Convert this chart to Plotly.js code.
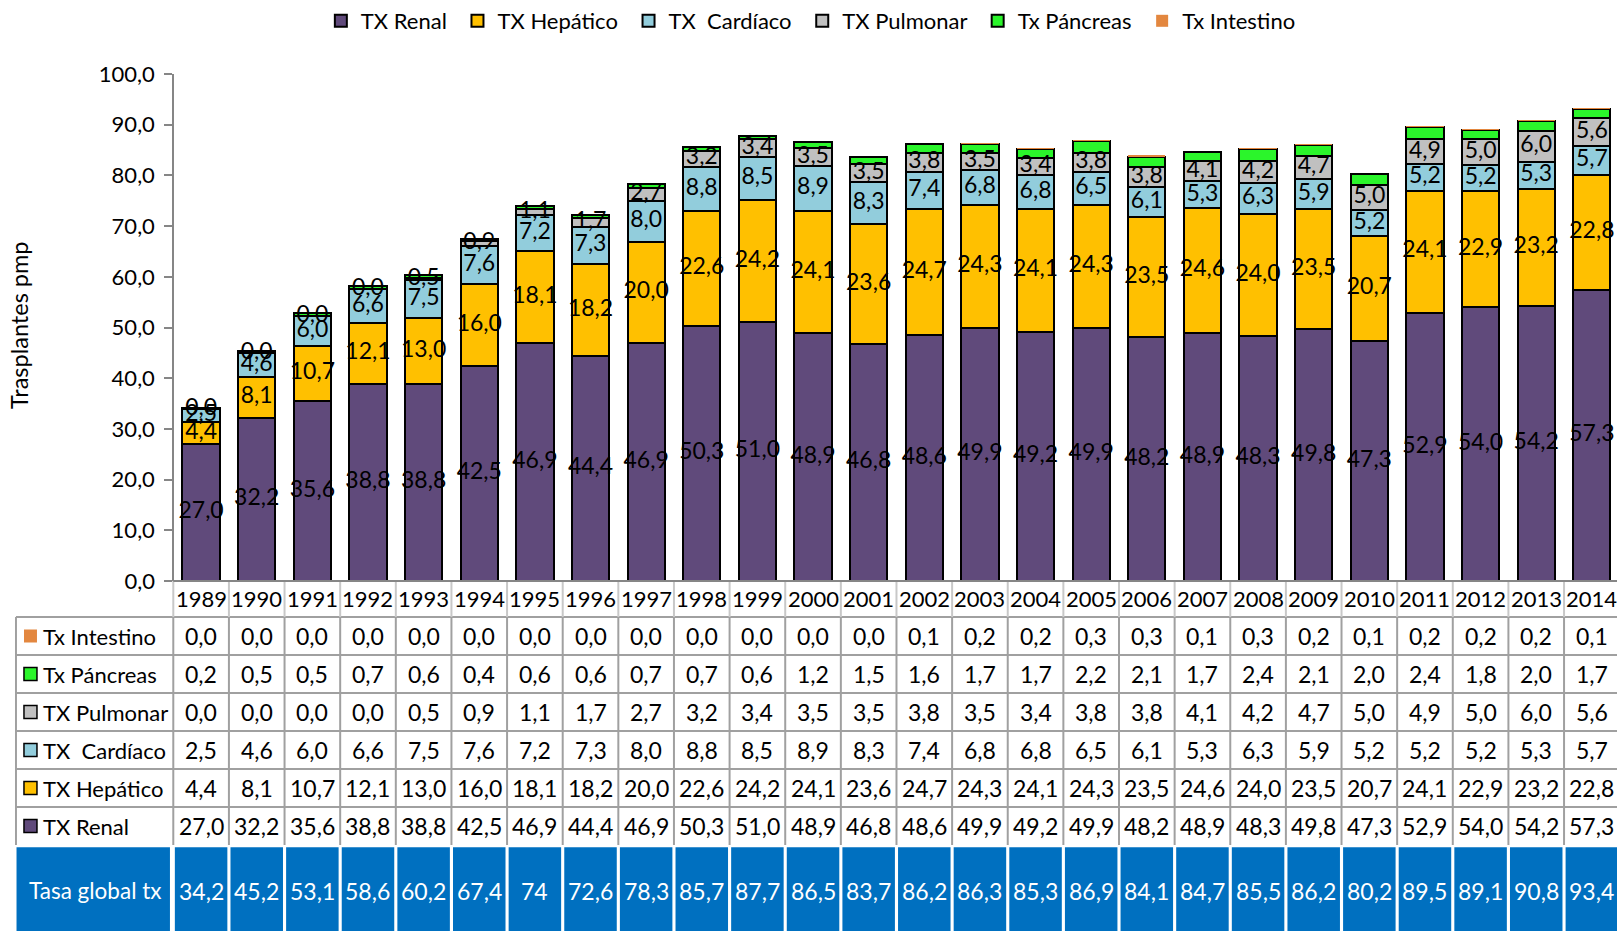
<!DOCTYPE html>
<html><head><meta charset="utf-8">
<script src="https://cdn.plot.ly/plotly-3.0.1.min.js"></script>
<style>html,body{margin:0;padding:0;overflow:hidden;background:#fff}#chart{width:1617px;height:931px}</style>
</head><body><div id="chart"></div>
<script>
// ---------------- DATA ----------------
const years = ['1989','1990','1991','1992','1993','1994','1995','1996','1997','1998','1999','2000','2001','2002','2003','2004','2005','2006','2007','2008','2009','2010','2011','2012','2013','2014'];
const txRenal     = [27.0,32.2,35.6,38.8,38.8,42.5,46.9,44.4,46.9,50.3,51.0,48.9,46.8,48.6,49.9,49.2,49.9,48.2,48.9,48.3,49.8,47.3,52.9,54.0,54.2,57.3];
const txHepatico  = [4.4,8.1,10.7,12.1,13.0,16.0,18.1,18.2,20.0,22.6,24.2,24.1,23.6,24.7,24.3,24.1,24.3,23.5,24.6,24.0,23.5,20.7,24.1,22.9,23.2,22.8];
const txCardiaco  = [2.5,4.6,6.0,6.6,7.5,7.6,7.2,7.3,8.0,8.8,8.5,8.9,8.3,7.4,6.8,6.8,6.5,6.1,5.3,6.3,5.9,5.2,5.2,5.2,5.3,5.7];
const txPulmonar  = [0.0,0.0,0.0,0.0,0.5,0.9,1.1,1.7,2.7,3.2,3.4,3.5,3.5,3.8,3.5,3.4,3.8,3.8,4.1,4.2,4.7,5.0,4.9,5.0,6.0,5.6];
const txPancreas  = [0.2,0.5,0.5,0.7,0.6,0.4,0.6,0.6,0.7,0.7,0.6,1.2,1.5,1.6,1.7,1.7,2.2,2.1,1.7,2.4,2.1,2.0,2.4,1.8,2.0,1.7];
const txIntestino = [0.0,0.0,0.0,0.0,0.0,0.0,0.0,0.0,0.0,0.0,0.0,0.0,0.0,0.1,0.2,0.2,0.3,0.3,0.1,0.3,0.2,0.1,0.2,0.2,0.2,0.1];
const tasaGlobal  = [34.2,45.2,53.1,58.6,60.2,67.4,74,72.6,78.3,85.7,87.7,86.5,83.7,86.2,86.3,85.3,86.9,84.1,84.7,85.5,86.2,80.2,89.5,89.1,90.8,93.4];

const seriesNames  = ['TX Renal','TX Hepático','TX\u00a0 Cardíaco','TX Pulmonar','Tx Páncreas','Tx Intestino'];
const seriesValues = [txRenal, txHepatico, txCardiaco, txPulmonar, txPancreas, txIntestino];
const seriesColors = ['#604a7b','#ffc000','#92cddc','#c0c0c0','#2bf52b','#e3873f'];
const seriesLabeled = [true, true, true, true, false, false];
const tasaLabel = 'Tasa global tx';
const yTitle = 'Trasplantes pmp';

// ---------------- STYLE ----------------
const FONT = 'Lato, "Open Sans", "DejaVu Sans", sans-serif';
const FS_TEXT = 22;   // words
const FS_NUM = 23;    // numbers with decimals
const W = 1617, H = 931;
const X_RANGE = [-3.615, 25.452];
const LABEL_LEFT = -3.328;
const TABLE_TOP_PX = 579;          // y2 = 0
const ROW_PX = 38;
const Y2_RANGE = [(H - TABLE_TOP_PX) / ROW_PX, 0];
const AXIS_Y2 = 2 / ROW_PX;        // x axis line (value 0) inside the table axis
const BLUE = '#0070c0';
const GRID = '#a0a0a0';
const GRID_LIGHT = '#c8c8c8';
const LEGEND_PAD = '\u00a0';

const fmt = v => v.toFixed(1).replace('.', ',');
const fmtTasa = v => Number.isInteger(v) ? String(v) : fmt(v);

// ---------------- TRACES ----------------
const traces = [];
seriesNames.forEach((name, s) => {
  traces.push({
    type: 'bar', name: name + LEGEND_PAD, x: years, y: seriesValues[s],
    marker: {color: seriesColors[s], line: {color: '#000', width: s === 5 ? 0 : 2}},
    hoverinfo: 'x+y', xaxis: 'x', yaxis: 'y'
  });
});
// data labels at the middle of each labelled segment
const base = years.map(() => 0);
seriesValues.forEach((vals, s) => {
  if (seriesLabeled[s]) {
    traces.push({
      type: 'scatter', mode: 'text', x: years,
      y: vals.map((v, i) => base[i] + v / 2),
      text: vals.map(fmt), textposition: 'middle center',
      textfont: {family: FONT, size: FS_NUM, color: '#000'},
      showlegend: false, hoverinfo: 'skip', cliponaxis: false, xaxis: 'x', yaxis: 'y'
    });
  }
  vals.forEach((v, i) => { base[i] += v; });
});
// empty trace to hold the table subplot
traces.push({type: 'scatter', x: [], y: [], xaxis: 'x', yaxis: 'y2', showlegend: false, hoverinfo: 'skip'});

// ---------------- TABLE ----------------
const shapes = [];
const annotations = [];
const n = years.length;
const tableRows = [5, 4, 3, 2, 1, 0]; // series index per row, top to bottom (rows 1..6)

// year header row
years.forEach((yr, i) => {
  annotations.push({x: i, y: 0.5, xref: 'x', yref: 'y2', text: yr, showarrow: false,
    font: {family: FONT, size: FS_TEXT, color: '#000'}, xanchor: 'center', yanchor: 'middle'});
});
// data rows
tableRows.forEach((s, r) => {
  const rc = r + 1.5;
  annotations.push({x: LABEL_LEFT, y: rc, xref: 'x', yref: 'y2', text: seriesNames[s], showarrow: false,
    xanchor: 'left', yanchor: 'middle', xshift: 25, font: {family: FONT, size: FS_TEXT, color: '#000'}});
  shapes.push({type: 'rect', xref: 'x', yref: 'y2', xsizemode: 'pixel', ysizemode: 'pixel',
    xanchor: LABEL_LEFT, yanchor: rc, x0: 8, x1: 21, y0: -6.5, y1: 6.5,
    fillcolor: seriesColors[s], line: {color: '#000', width: s === 5 ? 0 : 1.5}});
  seriesValues[s].forEach((v, i) => {
    annotations.push({x: i, y: rc, xref: 'x', yref: 'y2', text: fmt(v), showarrow: false,
      font: {family: FONT, size: FS_NUM, color: '#000'}, xanchor: 'center', yanchor: 'middle'});
  });
});
// grid lines
for (let r = 1; r <= 6; r++) {
  shapes.push({type: 'line', xref: 'x', yref: 'y2', x0: LABEL_LEFT, x1: n - 0.5, y0: r, y1: r,
    line: {color: GRID, width: 2}});
}
for (let k = 0; k <= n; k++) {
  shapes.push({type: 'line', xref: 'x', yref: 'y2', x0: k - 0.5, x1: k - 0.5, y0: AXIS_Y2, y1: 1,
    line: {color: GRID_LIGHT, width: 2}});
  shapes.push({type: 'line', xref: 'x', yref: 'y2', x0: k - 0.5, x1: k - 0.5, y0: 1, y1: 7,
    line: {color: GRID, width: 2}});
}
shapes.push({type: 'line', xref: 'x', yref: 'y2', x0: LABEL_LEFT, x1: LABEL_LEFT, y0: 1, y1: 7,
  line: {color: GRID, width: 2}});
// x axis line (top of the year row)
shapes.push({type: 'line', xref: 'x', yref: 'y2', x0: -0.5, x1: n - 0.5, y0: AXIS_Y2, y1: AXIS_Y2,
  line: {color: '#868686', width: 2}});

// blue "Tasa global" row
const gap = 0.028;
const blueTop = 7.06, blueText = 8.21;
shapes.push({type: 'rect', xref: 'x', yref: 'y2', x0: LABEL_LEFT + 0.01, x1: -0.5 - 0.06, y0: blueTop, y1: 9.5,
  fillcolor: BLUE, line: {width: 0}});
annotations.push({x: (LABEL_LEFT - 0.5) / 2, y: blueText, xref: 'x', yref: 'y2', text: tasaLabel, showarrow: false,
  font: {family: FONT, size: 22.5, color: '#fff'}, xanchor: 'center', yanchor: 'middle'});
tasaGlobal.forEach((v, i) => {
  shapes.push({type: 'rect', xref: 'x', yref: 'y2', x0: i - 0.5 + gap, x1: i + 0.5 - gap, y0: blueTop, y1: 9.5,
    fillcolor: BLUE, line: {width: 0}});
  annotations.push({x: i, y: blueText, xref: 'x', yref: 'y2', text: fmtTasa(v), showarrow: false,
    font: {family: FONT, size: FS_NUM, color: '#fff'}, xanchor: 'center', yanchor: 'middle'});
});

// y axis title
annotations.push({xref: 'paper', yref: 'paper', x: 19 / W, y: 1 - 325 / H, text: yTitle, textangle: -90,
  showarrow: false, xanchor: 'center', yanchor: 'middle', font: {family: FONT, size: 23.5, color: '#000'}});

// ---------------- LAYOUT ----------------
const layout = {
  width: W, height: H,
  margin: {l: 0, r: 0, t: 0, b: 0, pad: 0},
  paper_bgcolor: '#fff', plot_bgcolor: 'rgba(0,0,0,0)',
  separators: ',.',
  barmode: 'stack', bargap: 0.33,
  font: {family: FONT, size: FS_TEXT, color: '#000'},
  showlegend: true,
  legend: {orientation: 'h', x: 0.503, xanchor: 'center', y: 1 - 21 / H, yanchor: 'middle',
    font: {family: FONT, size: FS_TEXT, color: '#000'}, bgcolor: 'rgba(0,0,0,0)', itemwidth: 30,
    traceorder: 'normal'},
  xaxis: {type: 'category', domain: [0, 1], range: X_RANGE, showline: false, showticklabels: false,
    ticks: '', showgrid: false, zeroline: false, fixedrange: true},
  yaxis: {domain: [(H - 581) / H, (H - 74) / H], range: [0, 100], anchor: 'free', position: 173.3 / W,
    showline: true, linecolor: '#868686', linewidth: 2, ticks: 'outside', ticklen: 8, tickwidth: 2,
    tickcolor: '#868686', dtick: 10, tick0: 0, tickformat: '.1f', showgrid: false, zeroline: false,
    ticklabelstandoff: 5, tickfont: {family: FONT, size: FS_TEXT, color: '#000'}, fixedrange: true},
  yaxis2: {domain: [0, (H - TABLE_TOP_PX) / H], range: Y2_RANGE, anchor: 'x', visible: false,
    showgrid: false, zeroline: false, fixedrange: true},
  shapes: shapes,
  annotations: annotations
};

Plotly.newPlot('chart', traces, layout, {displayModeBar: false, staticPlot: true});
</script>
</body></html>
